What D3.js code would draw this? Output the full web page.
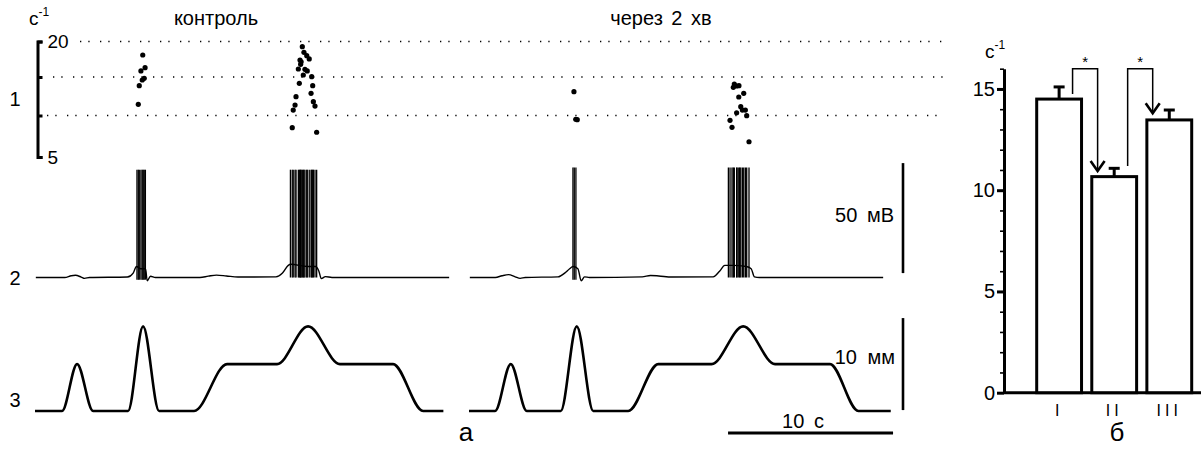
<!DOCTYPE html>
<html>
<head>
<meta charset="utf-8">
<script src="https://cdn.jsdelivr.net/npm/d3@7"></script>
<style>
  body { margin: 0; background: #fff; }
  svg { display: block; }
  text { font-family: Arial, "Liberation Sans", sans-serif; fill: #000; }
</style>
</head>
<body>
<svg id="chart" width="1201" height="449"></svg>
<script>
// ---- data ----
const panelTitles = ['контроль', 'через 2 хв'];
const rowLabels = ['1', '2', '3'];

// 1: instantaneous frequency [time s, freq с-1]
const freqControl = [
  [6.26, 11.45], [6.32, 13.87], [6.42, 15.85], [6.50, 14.61], [6.53, 18.10], [6.62, 14.83], [6.67, 16.31],
  [15.59, 8.53], [15.65, 10.71], [15.76, 11.36], [15.82, 12.44], [15.96, 16.13], [16.02, 14.18], [16.06, 17.39],
  [16.10, 16.79], [16.13, 17.15], [16.20, 19.27], [16.26, 15.28], [16.30, 18.48], [16.36, 16.08], [16.47, 18.0],
  [16.50, 15.85], [16.62, 17.54], [16.73, 12.88], [16.77, 15.04], [16.83, 13.87], [16.87, 11.79], [16.97, 11.23],
  [17.07, 7.98]
];
const freqAfter = [
  [6.36, 13.09], [6.47, 9.55], [6.56, 9.5],
  [15.82, 9.42], [15.94, 8.58], [16.02, 13.66], [16.08, 14.09], [16.22, 13.83], [16.22, 10.36], [16.35, 12.40],
  [16.36, 13.87], [16.47, 11.14], [16.57, 10.71], [16.65, 12.88], [16.75, 10.71], [16.83, 9.98], [16.97, 6.84]
];
const freqGrid = [20, 15, 10];
const freqTicks = [5, 10, 15, 20];

// 2: membrane potential, slow component [time s, mV]
const vmControl = [
  [0.05, 0], [1.8, 0], [2.2, 0.8], [2.45, 1], [2.8, 0.2], [3.0, -0.4], [3.3, 0], [5.6, 0.2], [5.95, 2], [6.15, 5],
  [6.4, 4], [6.7, 4], [6.8, -1.5], [7.0, 0.6], [7.3, 0], [10.0, 0], [10.5, 0.6], [11.0, 1.1], [11.6, 0.7],
  [12.3, 0.2], [14.6, 0.3], [15.0, 2], [15.35, 5.5], [15.5, 6], [16.5, 5], [17.0, 5], [17.2, 3], [17.35, -0.5],
  [17.6, 0.4], [18.0, 0], [25.1, 0]
];
const vmAfter = [
  [0.05, 0], [1.6, 0], [2.0, 0.8], [2.4, 1.3], [2.8, 0.3], [3.1, -0.4], [3.4, 0], [5.4, 0.3], [5.8, 2], [6.1, 4],
  [6.3, 5], [6.6, 4], [6.8, -1.5], [7.0, 0.3], [7.3, 0], [10.5, 0.3], [11.0, 0.9], [11.5, 0.7], [12.3, 0.2],
  [14.8, 0.3], [15.2, 3], [15.5, 5.5], [16.0, 5.5], [16.8, 5], [17.1, 4], [17.3, 0.3], [17.6, 0], [25.1, 0]
];
// spike times (s) per burst, with burst depolarisation level and spike peak (mV)
const spikesControl = [
  { base: 4, peak: 49, times: [6.18, 6.26, 6.32, 6.42, 6.50, 6.56, 6.62, 6.69] },
  { base: 5, peak: 49, times: [15.48, 15.59, 15.65, 15.76, 15.82, 15.96, 16.02, 16.06, 16.10, 16.13, 16.20, 16.26,
                               16.30, 16.36, 16.47, 16.50, 16.62, 16.73, 16.77, 16.83, 16.87, 16.97, 17.07] }
];
const spikesAfter = [
  { base: 4, peak: 50, times: [6.30, 6.38, 6.48] },
  { base: 5, peak: 50, times: [15.72, 15.82, 15.94, 16.02, 16.08, 16.22, 16.25, 16.35, 16.40, 16.47, 16.57, 16.65,
                               16.75, 16.83, 16.97] }
];

// 3: stretch [time s, mm]
const stretchControl = [
  [0, 0], [1.64, 0], [2.55, 5.1], [3.52, 0], [5.64, 0], [6.55, 9.2], [7.52, 0], [9.64, 0], [11.64, 5.1],
  [14.67, 5.1], [16.55, 9.2], [18.48, 5.1], [21.7, 5.1], [23.52, 0], [24.75, 0]
];
const stretchAfter = [
  [0, 0], [1.58, 0], [2.53, 5.1], [3.5, 0], [5.56, 0], [6.53, 9.2], [7.53, 0], [9.65, 0], [11.47, 5.1],
  [14.7, 5.1], [16.62, 9.2], [18.55, 5.1], [21.88, 5.1], [23.6, 0], [25.56, 0]
];

// б: mean firing rate
const groups = ['I', 'II', 'III'];
const means = [14.5, 10.67, 13.47];
const sems = [0.6, 0.41, 0.49];
const barTicks = [0, 5, 10, 15];
const barMinor = [1, 2, 3, 4, 6, 7, 8, 9, 11, 12, 13, 14, 16];
// significance: from group, to group, start value, top value, arrow tip value
const signif = [
  { from: 'I', to: 'II', start: 14.75, top: 16.0, end: 10.95 },
  { from: 'II', to: 'III', start: 11.2, top: 16.0, end: 13.8 }
];

// ---- drawing ----
const svg = d3.select('#chart');
svg.append('rect').attr('width', 1201).attr('height', 449).attr('fill', '#fff');

const xPanels = [
  d3.scaleLinear().domain([0, 10]).range([35, 200]),
  d3.scaleLinear().domain([0, 10]).range([469, 634])
];
const yF = d3.scaleLinear().domain([5, 10, 15, 20]).range([157, 115.5, 77, 41.5]);
const yV = d3.scaleLinear().domain([0, 50]).range([277.5, 167.5]);
const yMM = d3.scaleLinear().domain([0, 10]).range([411, 319]);

// row labels
[[99, 0], [277.5, 1], [400, 2]].forEach(([y, i]) => {
  svg.append('text').attr('x', 15).attr('y', y).attr('dy', '0.36em')
    .attr('text-anchor', 'middle').attr('font-size', 20).text(rowLabels[i]);
});

// titles
svg.append('text').attr('x', 216).attr('y', 25).attr('text-anchor', 'middle')
  .attr('font-size', 20).text(panelTitles[0]);
svg.append('text').attr('x', 661).attr('y', 25).attr('text-anchor', 'middle')
  .attr('font-size', 20).attr('word-spacing', 3).text(panelTitles[1]);

// units label
const unit1 = svg.append('text').attr('x', 29).attr('y', 25).attr('font-size', 19);
unit1.append('tspan').text('с');
unit1.append('tspan').attr('font-size', 12).attr('dy', -9).text('-1');

// frequency bracket
const fAxis = svg.append('g').attr('transform', 'translate(37.5,0)')
  .call(d3.axisRight(yF).tickValues(freqTicks).tickSize(5).tickSizeOuter(5).tickPadding(5)
    .tickFormat(d => (d === 20 || d === 5) ? d : ''));
fAxis.selectAll('path, line').attr('stroke', '#000').attr('stroke-width', 3);
fAxis.selectAll('text').attr('font-size', 19).attr('font-family', 'Arial, "Liberation Sans", sans-serif');

// dotted grid
const gridStart = [80, 53, 47];
freqGrid.forEach((v, i) => {
  svg.append('line').attr('x1', gridStart[i]).attr('x2', 944)
    .attr('y1', yF(v)).attr('y2', yF(v))
    .attr('stroke', '#000').attr('stroke-width', 1.4)
    .attr('stroke-dasharray', '1.3,7,1.3,10.4');
});

// frequency dots
[freqControl, freqAfter].forEach((pts, p) => {
  svg.append('g').selectAll('circle').data(pts).join('circle')
    .attr('cx', d => xPanels[p](d[0])).attr('cy', d => yF(d[1]))
    .attr('r', 2.6).attr('fill', '#000');
});

// membrane potential
const vLine = d3.line().x(d => d[0]).y(d => d[1]).curve(d3.curveMonotoneX);
[[vmControl, spikesControl], [vmAfter, spikesAfter]].forEach(([vm, bursts], p) => {
  const x = xPanels[p];
  svg.append('path').attr('d', vLine(vm.map(d => [x(d[0]), yV(d[1])])))
    .attr('fill', 'none').attr('stroke', '#000').attr('stroke-width', 1.4);
  bursts.forEach(b => {
    svg.append('g').selectAll('line').data(b.times).join('line')
      .attr('x1', d => x(d)).attr('x2', d => x(d))
      .attr('y1', yV(b.base - 5)).attr('y2', yV(b.peak))
      .attr('stroke', '#000').attr('stroke-width', 1.3);
  });
});

// stretch
[stretchControl, stretchAfter].forEach((pts, p) => {
  const x = xPanels[p];
  svg.append('path').attr('d', vLine(pts.map(d => [x(d[0]), yMM(d[1])])))
    .attr('fill', 'none').attr('stroke', '#000').attr('stroke-width', 2.6);
});

// scale bars
svg.append('line').attr('x1', 903).attr('x2', 903).attr('y1', yV(2)).attr('y2', yV(52))
  .attr('stroke', '#000').attr('stroke-width', 2.6);
svg.append('text').attr('x', 894).attr('y', 215).attr('dy', '0.36em').attr('text-anchor', 'end')
  .attr('font-size', 20).attr('word-spacing', 4).text('50 мВ');
svg.append('line').attr('x1', 903).attr('x2', 903).attr('y1', yMM(0.1)).attr('y2', yMM(10.1))
  .attr('stroke', '#000').attr('stroke-width', 2.6);
svg.append('text').attr('x', 895).attr('y', 356.5).attr('dy', '0.36em').attr('text-anchor', 'end')
  .attr('font-size', 20).attr('word-spacing', 5).text('10 мм');
svg.append('line').attr('x1', xPanels[1](15.7)).attr('x2', xPanels[1](25.7)).attr('y1', 433).attr('y2', 433)
  .attr('stroke', '#000').attr('stroke-width', 3);
svg.append('text').attr('x', 803).attr('y', 428).attr('text-anchor', 'middle')
  .attr('font-size', 20).attr('word-spacing', 4).text('10 с');

svg.append('text').attr('x', 466).attr('y', 441).attr('text-anchor', 'middle')
  .attr('font-size', 26).text('а');

// ---- bar chart б ----
const yB = d3.scaleLinear().domain([0, 16]).range([392.7, 68.7]);
const xB = d3.scaleBand().domain(groups).range([1036.7, 1191.7]).paddingInner(0.186).paddingOuter(0);
const bw = xB.bandwidth();

const minorAx = svg.append('g').attr('transform', 'translate(1004,0)')
  .call(d3.axisLeft(yB).tickValues(barMinor).tickSize(4).tickSizeOuter(0).tickFormat(''));
minorAx.select('.domain').remove();
minorAx.selectAll('line').attr('stroke', '#000').attr('stroke-width', 1.6);

const bAx = svg.append('g').attr('transform', 'translate(1004,0)')
  .call(d3.axisLeft(yB).tickValues(barTicks).tickSize(7).tickSizeOuter(0).tickPadding(2));
bAx.selectAll('path, line').attr('stroke', '#000').attr('stroke-width', 3);
bAx.selectAll('text').attr('font-size', 20).attr('font-family', 'Arial, "Liberation Sans", sans-serif');

svg.append('line').attr('x1', 1004).attr('x2', 1201).attr('y1', yB(0)).attr('y2', yB(0))
  .attr('stroke', '#000').attr('stroke-width', 3);

const xAx = svg.append('g').attr('transform', `translate(0,${yB(0)})`)
  .call(d3.axisBottom(xB).tickSize(0).tickPadding(12));
xAx.select('.domain').remove();
xAx.selectAll('text').attr('font-size', 16).attr('letter-spacing', 4)
  .attr('font-family', 'Arial, "Liberation Sans", sans-serif');

const unit2 = svg.append('text').attr('x', 985).attr('y', 58).attr('font-size', 19);
unit2.append('tspan').text('с');
unit2.append('tspan').attr('font-size', 12).attr('dy', -9).text('-1');

// bars
svg.append('g').selectAll('rect').data(groups).join('rect')
  .attr('x', d => xB(d)).attr('width', bw)
  .attr('y', (d, i) => yB(means[i])).attr('height', (d, i) => yB(0) - yB(means[i]))
  .attr('fill', '#fff').attr('stroke', '#000').attr('stroke-width', 3);

// error bars
groups.forEach((g, i) => {
  const cx = xB(g) + bw / 2;
  svg.append('line').attr('x1', cx).attr('x2', cx)
    .attr('y1', yB(means[i])).attr('y2', yB(means[i] + sems[i]))
    .attr('stroke', '#000').attr('stroke-width', 3);
  svg.append('line').attr('x1', cx - 5.5).attr('x2', cx + 5.5)
    .attr('y1', yB(means[i] + sems[i])).attr('y2', yB(means[i] + sems[i]))
    .attr('stroke', '#000').attr('stroke-width', 3);
});

// significance arrows
signif.forEach(s => {
  const x1 = xB(s.from) + bw * 0.8;
  const x2 = xB(s.to) + bw * 0.13;
  svg.append('path')
    .attr('d', `M${x1},${yB(s.start)}V${yB(s.top)}H${x2}V${yB(s.end) - 1}`)
    .attr('fill', 'none').attr('stroke', '#000').attr('stroke-width', 1.5);
  svg.append('path')
    .attr('d', `M${x2 - 7},${yB(s.end) - 10}L${x2},${yB(s.end)}L${x2 + 7},${yB(s.end) - 10}`)
    .attr('fill', 'none').attr('stroke', '#000').attr('stroke-width', 2.6);
  svg.append('text').attr('x', (x1 + x2) / 2).attr('y', yB(s.top) - 2)
    .attr('text-anchor', 'middle').attr('font-size', 15).text('*');
});

svg.append('text').attr('x', 1117).attr('y', 441).attr('text-anchor', 'middle')
  .attr('font-size', 26).text('б');
</script>
</body>
</html>
